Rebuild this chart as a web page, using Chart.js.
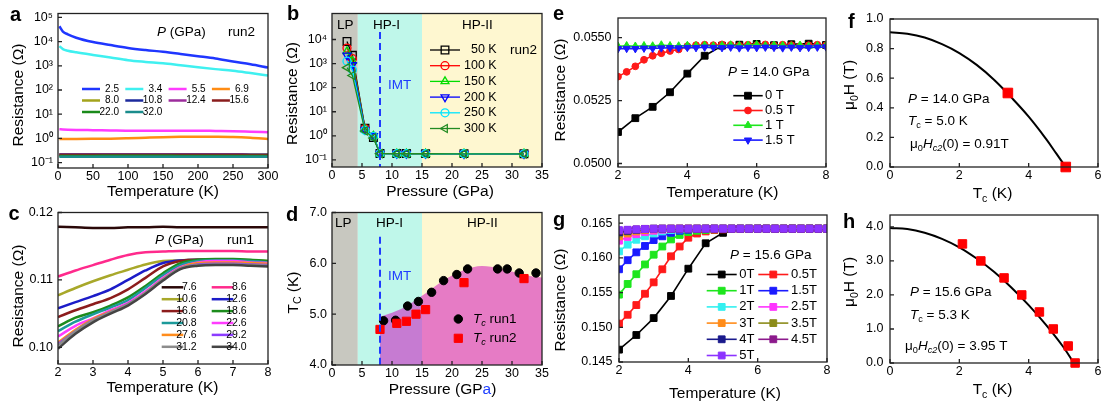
<!DOCTYPE html>
<html>
<head>
<meta charset="utf-8">
<script src="https://cdn.jsdelivr.net/npm/chart.js@4.4.0/dist/chart.umd.min.js"></script>
<style>
body { margin: 0; background: #fff; width: 1103px; height: 406px; overflow: hidden; position: relative; }
canvas { position: absolute; }
</style>
</head>
<body>
<script>
// ---------- a: R(T) at several pressures, run2 ----------
const aTemp = [2, 7, 14, 26, 50, 75, 100, 125, 150, 175, 200, 225, 250, 275, 300];
const aPressures = ['2.5', '3.4', '5.5', '6.9', '8.0', '10.8', '12.4', '15.6', '22.0', '32.0'];
const aRes = [
  [4.3e4, 2.6e4, 2.0e4, 1.45e4, 9.6e3, 7.2e3, 5.5e3, 4.5e3, 3.8e3, 3.1e3, 2.5e3, 2.0e3, 1.5e3, 1.15e3, 8.5e2],
  [6.5e3, 4.9e3, 4.2e3, 3.6e3, 2.8e3, 2.2e3, 1.7e3, 1.45e3, 1.27e3, 1.05e3, 8.7e2, 7.3e2, 6.2e2, 5.0e2, 4.0e2],
  [2.4, 2.35, 2.3, 2.25, 2.2, 2.15, 2.1, 2.1, 2.1, 2.1, 2.1, 2.05, 2.0, 1.9, 1.8],
  [0.95, 0.95, 0.95, 0.95, 0.96, 0.98, 1.02, 1.07, 1.12, 1.16, 1.18, 1.17, 1.14, 1.06, 0.95],
  [0.22, 0.22, 0.22, 0.22, 0.221, 0.221, 0.222, 0.222, 0.222, 0.221, 0.221, 0.22, 0.22, 0.219, 0.219],
  [0.215, 0.215, 0.215, 0.215, 0.216, 0.216, 0.216, 0.216, 0.216, 0.216, 0.215, 0.215, 0.215, 0.214, 0.214],
  [0.21, 0.21, 0.21, 0.21, 0.21, 0.211, 0.211, 0.211, 0.211, 0.211, 0.21, 0.21, 0.21, 0.209, 0.209],
  [0.205, 0.205, 0.205, 0.205, 0.205, 0.206, 0.206, 0.206, 0.206, 0.205, 0.205, 0.205, 0.205, 0.204, 0.204],
  [0.19, 0.19, 0.19, 0.19, 0.19, 0.191, 0.191, 0.191, 0.191, 0.19, 0.19, 0.19, 0.19, 0.189, 0.189],
  [0.175, 0.175, 0.175, 0.175, 0.175, 0.176, 0.176, 0.176, 0.176, 0.175, 0.175, 0.175, 0.175, 0.174, 0.174]
];
const aTicksX = [0, 50, 100, 150, 200, 250, 300];
const aTicksY = [0.1, 1, 10, 100, 1000, 10000, 100000];

// ---------- b: R(P) at several temperatures ----------
const bPressure = [2.5, 3.4, 5.5, 6.9, 8.0, 10.8, 12.4, 15.6, 22.0, 32.0];
const bTemps = ['50 K', '100 K', '150 K', '200 K', '250 K', '300 K'];
const bRes = [
  [8300, 2200, 2.1, 0.85, 0.186, 0.184, 0.184, 0.183, 0.183, 0.182],
  [4400, 1600, 2.0, 0.95, 0.185, 0.184, 0.183, 0.183, 0.182, 0.181],
  [3200, 1260, 1.9, 1.00, 0.185, 0.183, 0.183, 0.182, 0.182, 0.181],
  [2200, 870, 1.8, 1.00, 0.184, 0.183, 0.182, 0.182, 0.181, 0.180],
  [1260, 540, 1.7, 0.95, 0.184, 0.182, 0.182, 0.181, 0.181, 0.180],
  [680, 320, 1.6, 0.82, 0.183, 0.182, 0.181, 0.181, 0.180, 0.179]
];
const bTicksX = [0, 5, 10, 15, 20, 25, 30, 35];
const bTicksY = [0.1, 1, 10, 100, 1000, 10000];
const phaseEdges = [0, 4.3, 15, 35];
const imtPressure = 8;

// ---------- c: low-T R(T), run1 ----------
const cTemp = [2, 2.5, 3, 3.5, 4, 4.5, 5, 5.5, 6, 6.5, 7, 7.5, 8];
const cPressures = ['7.6', '8.6', '10.6', '12.6', '16.6', '18.6', '20.8', '22.6', '27.6', '29.2', '31.2', '34.0'];
const cRes = [
  [0.1179, 0.1178, 0.1177, 0.1177, 0.1178, 0.1178, 0.1179, 0.1178, 0.1178, 0.1178, 0.1178, 0.1178, 0.1178],
  [0.1105, 0.1114, 0.1122, 0.1130, 0.1137, 0.1141, 0.1142, 0.1143, 0.1143, 0.1143, 0.1143, 0.1142, 0.1142],
  [0.1077, 0.1088, 0.1098, 0.1107, 0.1115, 0.1123, 0.1128, 0.1129, 0.1130, 0.1130, 0.1130, 0.1129, 0.1128],
  [0.1058, 0.1067, 0.1076, 0.1086, 0.1100, 0.1114, 0.1125, 0.1129, 0.1130, 0.1130, 0.1129, 0.1128, 0.1127],
  [0.1045, 0.1055, 0.1064, 0.1073, 0.1086, 0.1103, 0.1120, 0.1128, 0.1130, 0.1130, 0.1129, 0.1128, 0.1127],
  [0.1031, 0.1044, 0.1052, 0.1062, 0.1074, 0.1091, 0.1110, 0.1125, 0.1130, 0.1131, 0.1131, 0.1130, 0.1128],
  [0.1024, 0.1038, 0.1049, 0.1059, 0.1070, 0.1088, 0.1107, 0.1122, 0.1128, 0.1129, 0.1129, 0.1128, 0.1126],
  [0.1016, 0.1032, 0.1043, 0.1055, 0.1066, 0.1083, 0.1103, 0.1119, 0.1126, 0.1128, 0.1128, 0.1126, 0.1125],
  [0.1007, 0.1026, 0.1042, 0.1053, 0.1064, 0.1081, 0.1101, 0.1118, 0.1125, 0.1126, 0.1126, 0.1125, 0.1124],
  [0.1005, 0.1024, 0.1040, 0.1052, 0.1064, 0.1080, 0.1100, 0.1117, 0.1123, 0.1124, 0.1124, 0.1123, 0.1122],
  [0.1003, 0.1024, 0.1040, 0.1052, 0.1064, 0.1081, 0.1101, 0.1117, 0.1122, 0.1123, 0.1123, 0.1122, 0.1121],
  [0.0998, 0.1020, 0.1037, 0.1050, 0.1062, 0.1079, 0.1099, 0.1116, 0.1121, 0.1122, 0.1122, 0.1121, 0.1120]
];
const cTicksX = [2, 3, 4, 5, 6, 7, 8];
const cTicksY = [0.10, 0.11, 0.12];

// ---------- d: Tc vs pressure ----------
const dRun1P = [8.6, 10.6, 12.6, 14.4, 16.6, 18.6, 20.8, 22.6, 27.6, 29.2, 31.2, 34.0];
const dRun1Tc = [4.87, 4.88, 5.16, 5.25, 5.43, 5.66, 5.78, 5.89, 5.89, 5.89, 5.81, 5.81];
const dRun2P = [8.0, 10.8, 12.4, 14.0, 15.6, 22.0, 32.0];
const dRun2Tc = [4.70, 4.82, 4.86, 5.00, 5.09, 5.62, 5.70];
const dDomeP = [8, 10, 12, 15, 18, 20, 22, 25, 28, 30, 32, 35];
const dDomeTc = [4.95, 5.03, 5.13, 5.36, 5.62, 5.76, 5.87, 5.95, 5.90, 5.84, 5.77, 5.72];
const dTicksY = [4, 5, 6, 7];

// ---------- e: R(T) at 14.0 GPa in field ----------
const eTempCoarse = [2, 2.5, 3, 3.5, 4, 4.5, 5, 5.5, 6, 6.5, 7, 7.5, 8];
const eTempFine = [2, 2.25, 2.5, 2.75, 3, 3.25, 3.5, 3.75, 4, 4.25, 4.5, 4.75, 5, 5.25, 5.5, 5.75, 6, 6.25, 6.5, 6.75, 7, 7.25, 7.5, 7.75, 8];
const eFields = ['0 T', '0.5 T', '1 T', '1.5 T'];
const e0T = [0.05125, 0.05180, 0.05225, 0.05283, 0.05357, 0.05428, 0.05468, 0.05472, 0.05475, 0.05470, 0.05474, 0.05476, 0.05471];
const e05T = [0.05345, 0.05364, 0.05386, 0.05412, 0.05428, 0.05438, 0.05447, 0.05453, 0.05466, 0.05470, 0.05472, 0.05470, 0.05473, 0.05471, 0.05468, 0.05472, 0.05470, 0.05473, 0.05469, 0.05472, 0.05470, 0.05466, 0.05470, 0.05472, 0.05470];
const e1T = [0.05466, 0.05468, 0.05466, 0.05468, 0.05467, 0.05471, 0.05468, 0.05467, 0.05469, 0.05468, 0.05470, 0.05467, 0.05469, 0.05471, 0.05468, 0.05470, 0.05472, 0.05468, 0.05470, 0.05469, 0.05467, 0.05470, 0.05466, 0.05468, 0.05469];
const e15T = [0.05456, 0.05457, 0.05456, 0.05458, 0.05457, 0.05459, 0.05460, 0.05459, 0.05461, 0.05460, 0.05462, 0.05461, 0.05460, 0.05462, 0.05459, 0.05461, 0.05460, 0.05462, 0.05461, 0.05459, 0.05462, 0.05460, 0.05461, 0.05462, 0.05463];
const eTicksX = [2, 4, 6, 8];
const eTicksY = [0.0500, 0.0525, 0.0550];

// ---------- f: Hc2(T) at 14.0 GPa ----------
const fCurveT = [0, 0.5, 1, 1.5, 2, 2.5, 3, 3.5, 4, 4.5, 4.8, 5.07];
const fCurveH = [0.91, 0.90, 0.875, 0.83, 0.77, 0.69, 0.59, 0.47, 0.34, 0.19, 0.09, 0.0];
const fPointT = [3.4, 5.07];
const fPointH = [0.5, 0.0];
const fTicksX = [0, 2, 4, 6];
const fTicksY = [0, 0.2, 0.4, 0.6, 0.8, 1.0];

// ---------- g: R(T) at 15.6 GPa in field ----------
const gFields = ['0T', '0.5T', '1T', '1.5T', '2T', '2.5T', '3T', '3.5T', '4T', '4.5T', '5T'];
const g0T = [0.14678, 0.14889, 0.15132, 0.15451, 0.15844, 0.16210, 0.16360, 0.16415, 0.16418, 0.16418, 0.16420, 0.16420, 0.16420];
const g05T = [0.15053, 0.15180, 0.15320, 0.15483, 0.15647, 0.15835, 0.16022, 0.16163, 0.16290, 0.16350, 0.16380, 0.16400, 0.16410, 0.16415, 0.16418, 0.16418, 0.16420, 0.16420, 0.16420, 0.16420, 0.16420, 0.16420, 0.16420, 0.16420, 0.16420];
const g1T = [0.15470, 0.15624, 0.15764, 0.15905, 0.16045, 0.16163, 0.16265, 0.16330, 0.16370, 0.16390, 0.16400, 0.16410, 0.16415, 0.16418, 0.16420, 0.16420, 0.16420, 0.16420, 0.16420, 0.16420, 0.16420, 0.16420, 0.16420, 0.16420, 0.16420];
const g15T = [0.15835, 0.15966, 0.16079, 0.16171, 0.16256, 0.16310, 0.16360, 0.16390, 0.16405, 0.16415, 0.16420, 0.16420, 0.16420, 0.16420, 0.16420, 0.16420, 0.16420, 0.16420, 0.16420, 0.16420, 0.16420, 0.16420, 0.16420, 0.16420, 0.16420];
const g2T = [0.16093, 0.16190, 0.16260, 0.16310, 0.16350, 0.16380, 0.16400, 0.16410, 0.16415, 0.16420, 0.16420, 0.16420, 0.16420, 0.16420, 0.16420, 0.16420, 0.16420, 0.16420, 0.16420, 0.16420, 0.16420, 0.16420, 0.16420, 0.16420, 0.16420];
const g25T = [0.16247, 0.16300, 0.16340, 0.16370, 0.16390, 0.16405, 0.16415, 0.16420, 0.16420, 0.16420, 0.16420, 0.16420, 0.16420, 0.16420, 0.16420, 0.16420, 0.16420, 0.16420, 0.16420, 0.16420, 0.16420, 0.16420, 0.16420, 0.16420, 0.16420];
const g3T = [0.16310, 0.16350, 0.16380, 0.16400, 0.16410, 0.16418, 0.16420, 0.16420, 0.16420, 0.16420, 0.16420, 0.16420, 0.16420, 0.16420, 0.16420, 0.16420, 0.16420, 0.16420, 0.16420, 0.16420, 0.16420, 0.16420, 0.16420, 0.16420, 0.16420];
const g35T = [0.16350, 0.16380, 0.16400, 0.16410, 0.16418, 0.16420, 0.16420, 0.16420, 0.16420, 0.16420, 0.16420, 0.16420, 0.16420, 0.16420, 0.16420, 0.16420, 0.16420, 0.16420, 0.16420, 0.16420, 0.16420, 0.16420, 0.16420, 0.16420, 0.16420];
const g4T = [0.16370, 0.16390, 0.16405, 0.16415, 0.16420, 0.16420, 0.16420, 0.16420, 0.16420, 0.16420, 0.16420, 0.16420, 0.16420, 0.16420, 0.16420, 0.16420, 0.16420, 0.16420, 0.16420, 0.16420, 0.16420, 0.16420, 0.16420, 0.16420, 0.16420];
const g45T = [0.16390, 0.16400, 0.16410, 0.16418, 0.16420, 0.16420, 0.16420, 0.16420, 0.16420, 0.16420, 0.16420, 0.16420, 0.16420, 0.16420, 0.16420, 0.16420, 0.16420, 0.16420, 0.16420, 0.16420, 0.16420, 0.16420, 0.16420, 0.16420, 0.16420];
const g5T = [0.16400, 0.16405, 0.16410, 0.16415, 0.16418, 0.16420, 0.16420, 0.16420, 0.16420, 0.16420, 0.16420, 0.16420, 0.16420, 0.16420, 0.16420, 0.16420, 0.16420, 0.16420, 0.16420, 0.16420, 0.16420, 0.16420, 0.16420, 0.16420, 0.16420];
const gTicksY = [0.145, 0.150, 0.155, 0.160, 0.165];

// ---------- h: Hc2(T) at 15.6 GPa ----------
const hCurveT = [0, 0.5, 1, 1.5, 2, 2.5, 3, 3.5, 4, 4.5, 5, 5.3];
const hCurveH = [3.97, 3.94, 3.83, 3.65, 3.40, 3.07, 2.68, 2.22, 1.70, 1.12, 0.47, 0.0];
const hPointT = [2.09, 2.62, 3.29, 3.80, 4.31, 4.71, 5.14, 5.34];
const hPointH = [3.5, 3.0, 2.5, 2.0, 1.5, 1.0, 0.5, 0.0];
const hTicksY = [0, 1, 2, 3, 4];

// ---------- helpers ----------
const FONT = "'Liberation Sans', Arial, Helvetica, sans-serif";
Chart.defaults.font.family = FONT;
Chart.defaults.color = '#000';

const SUP = {'-': '\u207B', '0': '\u2070', '1': '\u00B9', '2': '\u00B2', '3': '\u00B3', '4': '\u2074', '5': '\u2075', '6': '\u2076', '7': '\u2077', '8': '\u2078', '9': '\u2079'};
const pow10 = v => '10' + String(Math.round(Math.log10(v))).split('').map(c => SUP[c]).join('');

function pts(xs, ys) {
  return xs.map((x, i) => ({x: x, y: ys[i]}));
}

function rich(ctx, parts, x, y, size, align, rotate) {
  const fonts = parts.map(p => {
    const f = p[1] || '';
    const sz = f.includes('s') ? size * 0.68 : size;
    return (f.includes('i') ? 'italic ' : '') + (f.includes('b') ? 'bold ' : '') + sz + 'px ' + FONT;
  });
  let total = 0;
  const widths = parts.map((p, i) => {
    ctx.font = fonts[i];
    const w = ctx.measureText(p[0]).width;
    total += w;
    return w;
  });
  ctx.save();
  ctx.translate(x, y);
  if (rotate) ctx.rotate(-Math.PI / 2);
  let cx = align === 'center' ? -total / 2 : (align === 'right' ? -total : 0);
  ctx.textBaseline = 'middle';
  ctx.textAlign = 'left';
  parts.forEach((p, i) => {
    ctx.font = fonts[i];
    ctx.fillStyle = p[2] || '#000';
    const dy = (p[1] || '').includes('s') ? size * 0.3 : 0;
    ctx.fillText(p[0], cx, dy);
    cx += widths[i];
  });
  ctx.restore();
}

const decor = {
  id: 'decor',
  beforeDatasetsDraw(chart) {
    const o = chart.canvas.decor;
    const ctx = chart.ctx, ca = chart.chartArea, x = chart.scales.x;
    (o.bands || []).forEach(b => {
      const x0 = x.getPixelForValue(b[0]), x1 = x.getPixelForValue(b[1]);
      ctx.fillStyle = b[2];
      ctx.fillRect(x0, ca.top, x1 - x0, ca.bottom - ca.top);
    });
  },
  afterDatasetsDraw(chart) {
    const o = chart.canvas.decor;
    const ctx = chart.ctx, ca = chart.chartArea, x = chart.scales.x, y = chart.scales.y;
    const ox = o.ox, oy = o.oy;
    if (o.vline) {
      ctx.save();
      ctx.strokeStyle = '#1f3cff';
      ctx.lineWidth = 2;
      ctx.setLineDash([7, 4]);
      const px = x.getPixelForValue(o.vline[0]);
      ctx.beginPath();
      ctx.moveTo(px, o.vline[1] - oy);
      ctx.lineTo(px, ca.bottom);
      ctx.stroke();
      ctx.restore();
    }
    // frame with inward ticks
    ctx.save();
    ctx.strokeStyle = '#222';
    ctx.lineWidth = 1.3;
    ctx.strokeRect(ca.left, ca.top, ca.right - ca.left, ca.bottom - ca.top);
    ctx.beginPath();
    x.ticks.forEach(t => {
      const p = x.getPixelForValue(t.value);
      ctx.moveTo(p, ca.bottom);
      ctx.lineTo(p, ca.bottom - 4);
    });
    y.ticks.forEach(t => {
      const p = y.getPixelForValue(t.value);
      ctx.moveTo(ca.left, p);
      ctx.lineTo(ca.left + 4, p);
    });
    ctx.stroke();
    ctx.restore();
    // texts
    (o.texts || []).forEach(t => {
      rich(ctx, t.parts, t.x - ox, t.y - oy, t.size || 13.5, t.align || 'left', t.rot);
    });
    // legend
    if (o.legend) {
      const lg = o.legend;
      lg.items.forEach((it, k) => {
        const col = k % lg.cols, row = Math.floor(k / lg.cols);
        const lx = lg.x + col * (lg.dx || 0) - ox, ly = lg.y + row * lg.dy - oy;
        const ds = chart.data.datasets[it.ds];
        ctx.save();
        if (lg.line > 0) {
          ctx.strokeStyle = ds.borderColor;
          ctx.lineWidth = ds.borderWidth;
          ctx.beginPath();
          ctx.moveTo(lx, ly);
          ctx.lineTo(lx + lg.line, ly);
          ctx.stroke();
        }
        if (ds.pointRadius > 0) {
          ctx.fillStyle = ds.pointBackgroundColor;
          ctx.strokeStyle = ds.pointBorderColor;
          ctx.lineWidth = ds.pointBorderWidth;
          Chart.helpers.drawPoint(ctx, {
            pointStyle: ds.pointStyle, rotation: ds.pointRotation || 0,
            radius: ds.pointRadius, borderWidth: ds.pointBorderWidth
          }, lx + lg.line / 2, ly);
        }
        ctx.restore();
        rich(ctx, it.parts || [[ds.label]], lx + lg.tx, ly, lg.size, lg.align);
      });
    }
    // panel letter
    ctx.save();
    ctx.font = 'bold 20px ' + FONT;
    ctx.fillStyle = '#000';
    ctx.textBaseline = 'alphabetic';
    ctx.fillText(o.letter[0], o.letter[1] - ox, o.letter[2] - oy);
    ctx.restore();
  }
};

function lineSet(label, xs, ys, color, width, i, n) {
  return {
    label: label, data: pts(xs, ys), showLine: true, borderColor: color, borderWidth: width,
    pointRadius: 0, cubicInterpolationMode: 'monotone', order: n - i
  };
}

function markSet(label, xs, ys, color, style, radius, opts) {
  opts = opts || {};
  return Object.assign({
    label: label, data: pts(xs, ys), showLine: !!opts.line, borderColor: color, borderWidth: opts.line || 0,
    pointStyle: style, pointRotation: opts.rot || 0, pointRadius: radius,
    pointBackgroundColor: opts.open ? 'rgba(0,0,0,0)' : color, pointBorderColor: color,
    pointBorderWidth: opts.open ? 1.3 : 1
  }, opts.extra || {});
}

function panel(p) {
  const cv = document.createElement('canvas');
  const top = p.T - 10;
  const w = p.R + 12 - p.cl, h = p.xt + 12 - top;
  const yW = p.L - p.cl, xH = h - (p.B - top);
  cv.width = w;
  cv.height = h;
  cv.style.left = p.cl + 'px';
  cv.style.top = top + 'px';
  document.body.appendChild(cv);
  cv.decor = Object.assign({ox: p.cl, oy: top}, p.decor);
  const axis = (range, ticks, fmt, fit, pad, log) => ({
    type: log ? 'logarithmic' : 'linear',
    min: range[0], max: range[1],
    grid: {display: false, drawTicks: false},
    border: {display: false},
    afterFit: fit,
    afterBuildTicks: s => { s.ticks = ticks.map(v => ({value: v})); },
    ticks: {callback: v => fmt(v), autoSkip: false, maxRotation: 0, minRotation: 0, padding: pad, font: {size: 12.5}}
  });
  return new Chart(cv, {
    type: 'scatter',
    data: {datasets: p.datasets},
    options: {
      responsive: false,
      animation: false,
      events: [],
      layout: {padding: {left: 0, top: 10, right: 12, bottom: 0}},
      plugins: {legend: {display: false}, tooltip: {enabled: false}},
      scales: {
        x: axis(p.x, p.xTicks, p.xFmt || String, s => { s.height = xH; }, 1, false),
        y: axis(p.y, p.yTicks, p.yFmt || String, s => { s.width = yW; }, p.yPad || 5, p.yLog)
      }
    },
    plugins: [decor]
  });
}

const fix = n => v => v.toFixed(n);
const title = (text, x, y, rot) => ({parts: typeof text === 'string' ? [[text]] : text, x: x, y: y, size: 15.5, align: 'center', rot: rot});
const bands = [
  [phaseEdges[0], phaseEdges[1], '#c8c8c0'],
  [phaseEdges[1], phaseEdges[2], '#bff7ea'],
  [phaseEdges[2], phaseEdges[3], '#fef7d0']
];

// ---------- panel a ----------
const aColors = ['#1f36ff', '#3ff0f0', '#ff3cff', '#ff8c14', '#a3a31c', '#1c2a9c', '#9c2c9c', '#8a1c1c', '#1a8a1a', '#1a8c8c'];
panel({
  L: 58, T: 11, R: 268, B: 168, cl: 2, xt: 192,
  x: [0, 300], xTicks: aTicksX, y: [0.06, 1.45e5], yTicks: aTicksY, yFmt: pow10, yLog: true,
  datasets: aPressures.map((p, i) => lineSet(p, aTemp, aRes[i], aColors[i], 2.5, i, aPressures.length)),
  decor: {
    letter: ['a', 10, 21],
    texts: [
      title('Resistance (\u03A9)', 18.5, 95, true),
      title('Temperature (K)', 163, 192),
      {parts: [['P', 'i'], [' (GPa)']], x: 157, y: 32},
      {parts: [['run2']], x: 228, y: 32}
    ],
    legend: {items: aPressures.map((p, i) => ({ds: i})), x: 82, y: 89, cols: 4, dx: 43.3, dy: 11.5, line: 18, tx: 37, align: 'right', size: 10}
  }
});

// ---------- panel b ----------
const bColors = ['#000000', '#ff0000', '#00dd00', '#0000ff', '#00e5ff', '#228b22'];
const bStyles = [['rect', 0, 5.4], ['circle', 0, 4], ['triangle', 0, 4.6], ['triangle', 180, 4.6], ['circle', 0, 4], ['triangle', 270, 4.6]];
panel({
  L: 332, T: 11, R: 542, B: 167, cl: 282, xt: 192,
  x: [0, 35], xTicks: bTicksX, y: [0.051, 1.2e5], yTicks: bTicksY, yFmt: pow10, yLog: true,
  datasets: bTemps.map((t, i) => markSet(t, bPressure, bRes[i], bColors[i], bStyles[i][0], bStyles[i][2],
    {rot: bStyles[i][1], open: true, line: 1.3, extra: {order: bTemps.length - i}})),
  decor: {
    letter: ['b', 287, 20],
    bands: bands,
    vline: [imtPressure, 32],
    texts: [
      title('Resistance (\u03A9)', 292.5, 93.5, true),
      title('Pressure (GPa)', 440, 191.7),
      {parts: [['LP']], x: 337, y: 25},
      {parts: [['HP-I']], x: 373, y: 25},
      {parts: [['HP-II']], x: 462, y: 25},
      {parts: [['IMT', '', '#1f3cff']], x: 388, y: 85},
      {parts: [['run2']], x: 510, y: 50}
    ],
    legend: {items: bTemps.map((t, i) => ({ds: i})), x: 430, y: 50, cols: 1, dy: 15.7, line: 30, tx: 66.7, align: 'right', size: 12.5}
  }
});

// ---------- panel c ----------
const cColors = ['#2a0808', '#ff2a8c', '#a8a82a', '#1c1cc8', '#8c1c1c', '#1c8c1c', '#1c9a9a', '#ff3cff', '#ff8c1c', '#8c3cff', '#8c8c8c', '#444444'];
panel({
  L: 58, T: 210, R: 268, B: 364, cl: 2, xt: 388,
  x: [2, 8], xTicks: cTicksX, y: [0.09753, 0.12], yTicks: cTicksY, yFmt: fix(2),
  datasets: cPressures.map((p, i) => lineSet(p, cTemp, cRes[i], cColors[i], 2.5, i, cPressures.length)),
  decor: {
    letter: ['c', 8.5, 220],
    texts: [
      title('Resistance (\u03A9)', 18.5, 296, true),
      title('Temperature (K)', 162.5, 388),
      {parts: [['P', 'i'], [' (GPa)']], x: 155, y: 240},
      {parts: [['run1']], x: 227, y: 240}
    ],
    legend: {items: cPressures.map((p, i) => ({ds: i})), x: 161.7, y: 287.3, cols: 2, dx: 50, dy: 11.9, line: 21.6, tx: 35, align: 'right', size: 10.5}
  }
});

// ---------- panel d ----------
panel({
  L: 332, T: 210, R: 542, B: 365, cl: 282, xt: 390,
  x: [0, 35], xTicks: bTicksX, y: [4, 7], yTicks: dTicksY, yFmt: fix(1),
  datasets: [
    markSet('Tc run1', dRun1P, dRun1Tc, '#000000', 'circle', 4.2, {extra: {order: 1}}),
    markSet('Tc run2', dRun2P, dRun2Tc, '#ff0000', 'rect', 5.8, {extra: {order: 0}}),
    {label: 'dome', data: pts(dDomeP, dDomeTc), showLine: true, fill: 'start', backgroundColor: 'rgba(205,0,185,0.5)',
      borderWidth: 0, pointRadius: 0, cubicInterpolationMode: 'monotone', order: 5}
  ],
  decor: {
    letter: ['d', 286, 221],
    bands: bands,
    vline: [imtPressure, 236.7],
    texts: [
      title([['T'], ['C', 's'], [' (K)']], 293.5, 292.5, true),
      title([['Pressure (GP'], ['a', '', '#2040ff'], [')']], 442.5, 390),
      {parts: [['LP']], x: 335, y: 223.3},
      {parts: [['HP-I']], x: 376, y: 223.3},
      {parts: [['HP-II']], x: 467, y: 223.3},
      {parts: [['IMT', '', '#1f3cff']], x: 388, y: 276}
    ],
    legend: {items: [
      {ds: 0, parts: [['T', 'i'], ['c', 'si'], [' run1']]},
      {ds: 1, parts: [['T', 'i'], ['c', 'si'], [' run2']]}
    ], x: 458.3, y: 319, cols: 1, dy: 19.3, line: 0, tx: 14.7, align: 'left', size: 13.5}
  }
});

// ---------- panel e ----------
const eSeries = [[eTempCoarse, e0T], [eTempFine, e05T], [eTempFine, e1T], [eTempFine, e15T]];
const eColors = ['#000000', '#ff1a1a', '#1ee61e', '#1a1aff'];
const eStyles = [['rect', 0, 4.8], ['circle', 0, 3.4], ['triangle', 0, 4.2], ['triangle', 180, 4.2]];
panel({
  L: 618, T: 14, R: 826, B: 167, cl: 550, xt: 193,
  x: [2, 8], xTicks: eTicksX, y: [0.04986, 0.05578], yTicks: eTicksY, yFmt: fix(4), yPad: 6.5,
  datasets: eFields.map((f, i) => markSet(f, eSeries[i][0], eSeries[i][1], eColors[i], eStyles[i][0], eStyles[i][2],
    {rot: eStyles[i][1], line: 1.6, extra: {order: eFields.length - i}})),
  decor: {
    letter: ['e', 553, 20],
    texts: [
      title('Resistance (\u03A9)', 561, 90, true),
      title('Temperature (K)', 722.5, 193),
      {parts: [['P', 'i'], [' = 14.0 GPa']], x: 728, y: 72.7}
    ],
    legend: {items: eFields.map((f, i) => ({ds: i})), x: 733.3, y: 95.7, cols: 1, dy: 14.8, line: 29.4, tx: 31.7, align: 'left', size: 13}
  }
});

// ---------- panel f ----------
panel({
  L: 890, T: 15, R: 1098, B: 167, cl: 839, xt: 194,
  x: [0, 6], xTicks: fTicksX, y: [0, 1], yTicks: fTicksY, yFmt: fix(1), yPad: 6.5,
  datasets: [
    markSet('data', fPointT, fPointH, '#ff0000', 'rect', 6.8, {extra: {clip: false, order: 0}}),
    {label: 'fit', data: pts(fCurveT, fCurveH), showLine: true, borderColor: '#000', borderWidth: 2, pointRadius: 0, tension: 0.4, order: 1}
  ],
  decor: {
    letter: ['f', 848, 28],
    texts: [
      title([['\u03BC'], ['0', 's'], ['H (T)']], 850, 85, true),
      title([['T'], ['c', 's'], [' (K)']], 992.5, 194),
      {parts: [['P', 'i'], [' = 14.0 GPa']], x: 908, y: 99.3},
      {parts: [['T', 'i'], ['c', 's'], [' = 5.0 K']], x: 908, y: 121.7},
      {parts: [['\u03BC'], ['0', 's'], ['H', 'i'], ['c2', 'si'], ['(0) = 0.91T']], x: 910, y: 144}
    ]
  }
});

// ---------- panel g ----------
const gSeries = [g0T, g05T, g1T, g15T, g2T, g25T, g3T, g35T, g4T, g45T, g5T];
const gColors = ['#000000', '#ff1a1a', '#1ee61e', '#1a1aff', '#33f0f0', '#ff33ff', '#ff8c1a', '#8c8c1a', '#1a1a8c', '#8c1a8c', '#8c33ff'];
panel({
  L: 619, T: 211, R: 827, B: 362, cl: 550, xt: 394,
  x: [2, 8], xTicks: eTicksX, y: [0.145, 0.16617], yTicks: gTicksY, yFmt: fix(3), yPad: 6.5,
  datasets: gFields.map((f, i) => markSet(f, i === 0 ? eTempCoarse : eTempFine, gSeries[i], gColors[i], 'rect', 4.8,
    {line: 1.6, extra: {order: gFields.length - i}})),
  decor: {
    letter: ['g', 553, 225.7],
    texts: [
      title('Resistance (\u03A9)', 561, 300, true),
      title('Temperature (K)', 725, 394),
      {parts: [['P', 'i'], [' = 15.6 GPa']], x: 730, y: 255}
    ],
    legend: {items: gFields.map((f, i) => ({ds: i})), x: 706.7, y: 274.5, cols: 2, dx: 51.6, dy: 16.2, line: 30, tx: 32.6, align: 'left', size: 13}
  }
});

// ---------- panel h ----------
panel({
  L: 890, T: 211, R: 1098, B: 363, cl: 839, xt: 390,
  x: [0, 6], xTicks: fTicksX, y: [0, 4.35], yTicks: hTicksY, yFmt: fix(1), yPad: 6.5,
  datasets: [
    markSet('data', hPointT, hPointH, '#ff0000', 'rect', 6, {extra: {clip: false, order: 0}}),
    {label: 'fit', data: pts(hCurveT, hCurveH), showLine: true, borderColor: '#000', borderWidth: 2, pointRadius: 0, tension: 0.4, order: 1}
  ],
  decor: {
    letter: ['h', 843, 228.3],
    texts: [
      title([['\u03BC'], ['0', 's'], ['H (T)']], 850, 282, true),
      title([['T'], ['c', 's'], [' (K)']], 992.5, 390),
      {parts: [['P', 'i'], [' = 15.6 GPa']], x: 910, y: 292.7},
      {parts: [['T', 'i'], ['c', 's'], [' = 5.3 K']], x: 910, y: 315},
      {parts: [['\u03BC'], ['0', 's'], ['H', 'i'], ['c2', 'si'], ['(0) = 3.95 T']], x: 905, y: 346.7}
    ]
  }
});
</script>
</body>
</html>
